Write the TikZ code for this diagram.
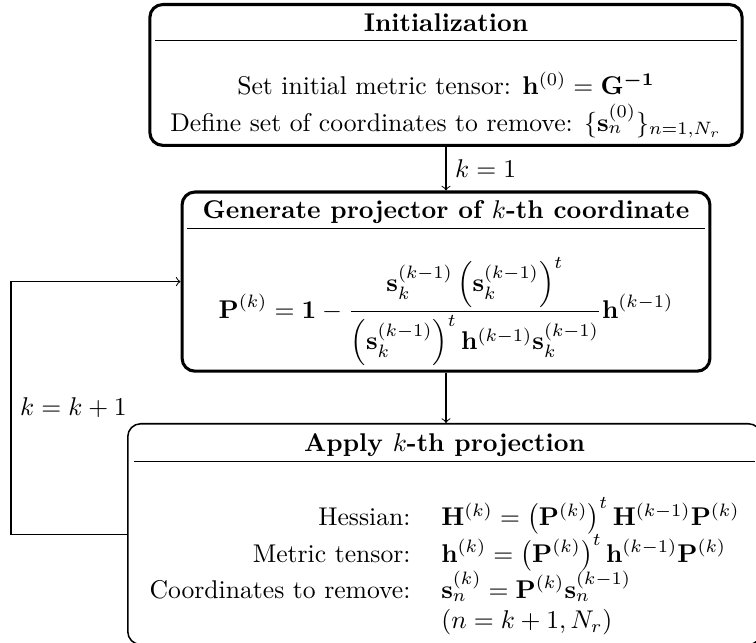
\documentclass[tikz,border=0pt]{standalone}
\usepackage{amsmath}
\usepackage{bm}
\usepackage{tikz}
\usetikzlibrary{positioning}
\usetikzlibrary{arrows}

\begin{document}
\begin{tikzpicture}[x=0.39pt,y=-0.39pt]
	\tikzstyle{StepStyle}  = [draw, very thick, rounded corners=5pt, inner sep=2pt]
	\tikzstyle{ApplyStyle} = [draw, semithick, rounded corners=5pt, inner sep=2.5pt]
	\tikzstyle{EdgeStyle}  = [->]
	\useasboundingbox (0,0) rectangle (756,643);
	\node[StepStyle, anchor=north] (init) at (446,3) {%
		\begin{tabular}{c}
			\textbf{Initialization}\\ \hline
			\\
			Set initial metric tensor: $\mathbf{h}^{(0)}=\mathbf{G}^{\bm{-1}}$\\
			Define set of coordinates to remove: $\{\mathbf{s}_n^{(0)}\}_{n=1,N_r}$
		\end{tabular}};
	\node[StepStyle, below=17pt of init] (proj) {%
		\begin{tabular}{c}
			\textbf{Generate projector of $k$-th coordinate}\\ \hline
			\\[-1pt]
			$\displaystyle \mathbf{P}^{(k)}=\mathbf{1}-\frac{\mathbf{s}_k^{(k-1)}\left(\mathbf{s}_k^{(k-1)}\right)^t}{\left(\mathbf{s}_k^{(k-1)}\right)^t\mathbf{h}^{(k-1)}\mathbf{s}_k^{(k-1)}}\mathbf{h}^{(k-1)}$\\[12pt]
		\end{tabular}};
	\node[ApplyStyle, anchor=north west] (apply) at (127,423) {%
		\begin{tabular}{rl}
			\multicolumn{2}{c}{\textbf{Apply $k$-th projection}}\\ \hline
			\\[2pt]
			Hessian: & $\mathbf{H}^{(k)}=\left(\mathbf{P}^{(k)}\right)^t\mathbf{H}^{(k-1)}\mathbf{P}^{(k)}$\\
			Metric tensor: & $\mathbf{h}^{(k)}=\left(\mathbf{P}^{(k)}\right)^t\mathbf{h}^{(k-1)}\mathbf{P}^{(k)}$\\
			Coordinates to remove: & $\mathbf{s}_n^{(k)}=\mathbf{P}^{(k)}\mathbf{s}_n^{(k-1)}$\\
			& $(n=k+1,N_r)$
		\end{tabular}};
	\coordinate (back) at (11,0);
	\draw[EdgeStyle] (init) -- node[right] {$k=1$} (proj);
	\draw[EdgeStyle] (proj) -- (proj |- apply.north);
	\draw[EdgeStyle] (apply.west) -- (apply.west -| back)
		-- node[right, pos=0.5] {$k=k+1$} (proj.west -| back) -- (proj.west);
\end{tikzpicture}
\end{document}
